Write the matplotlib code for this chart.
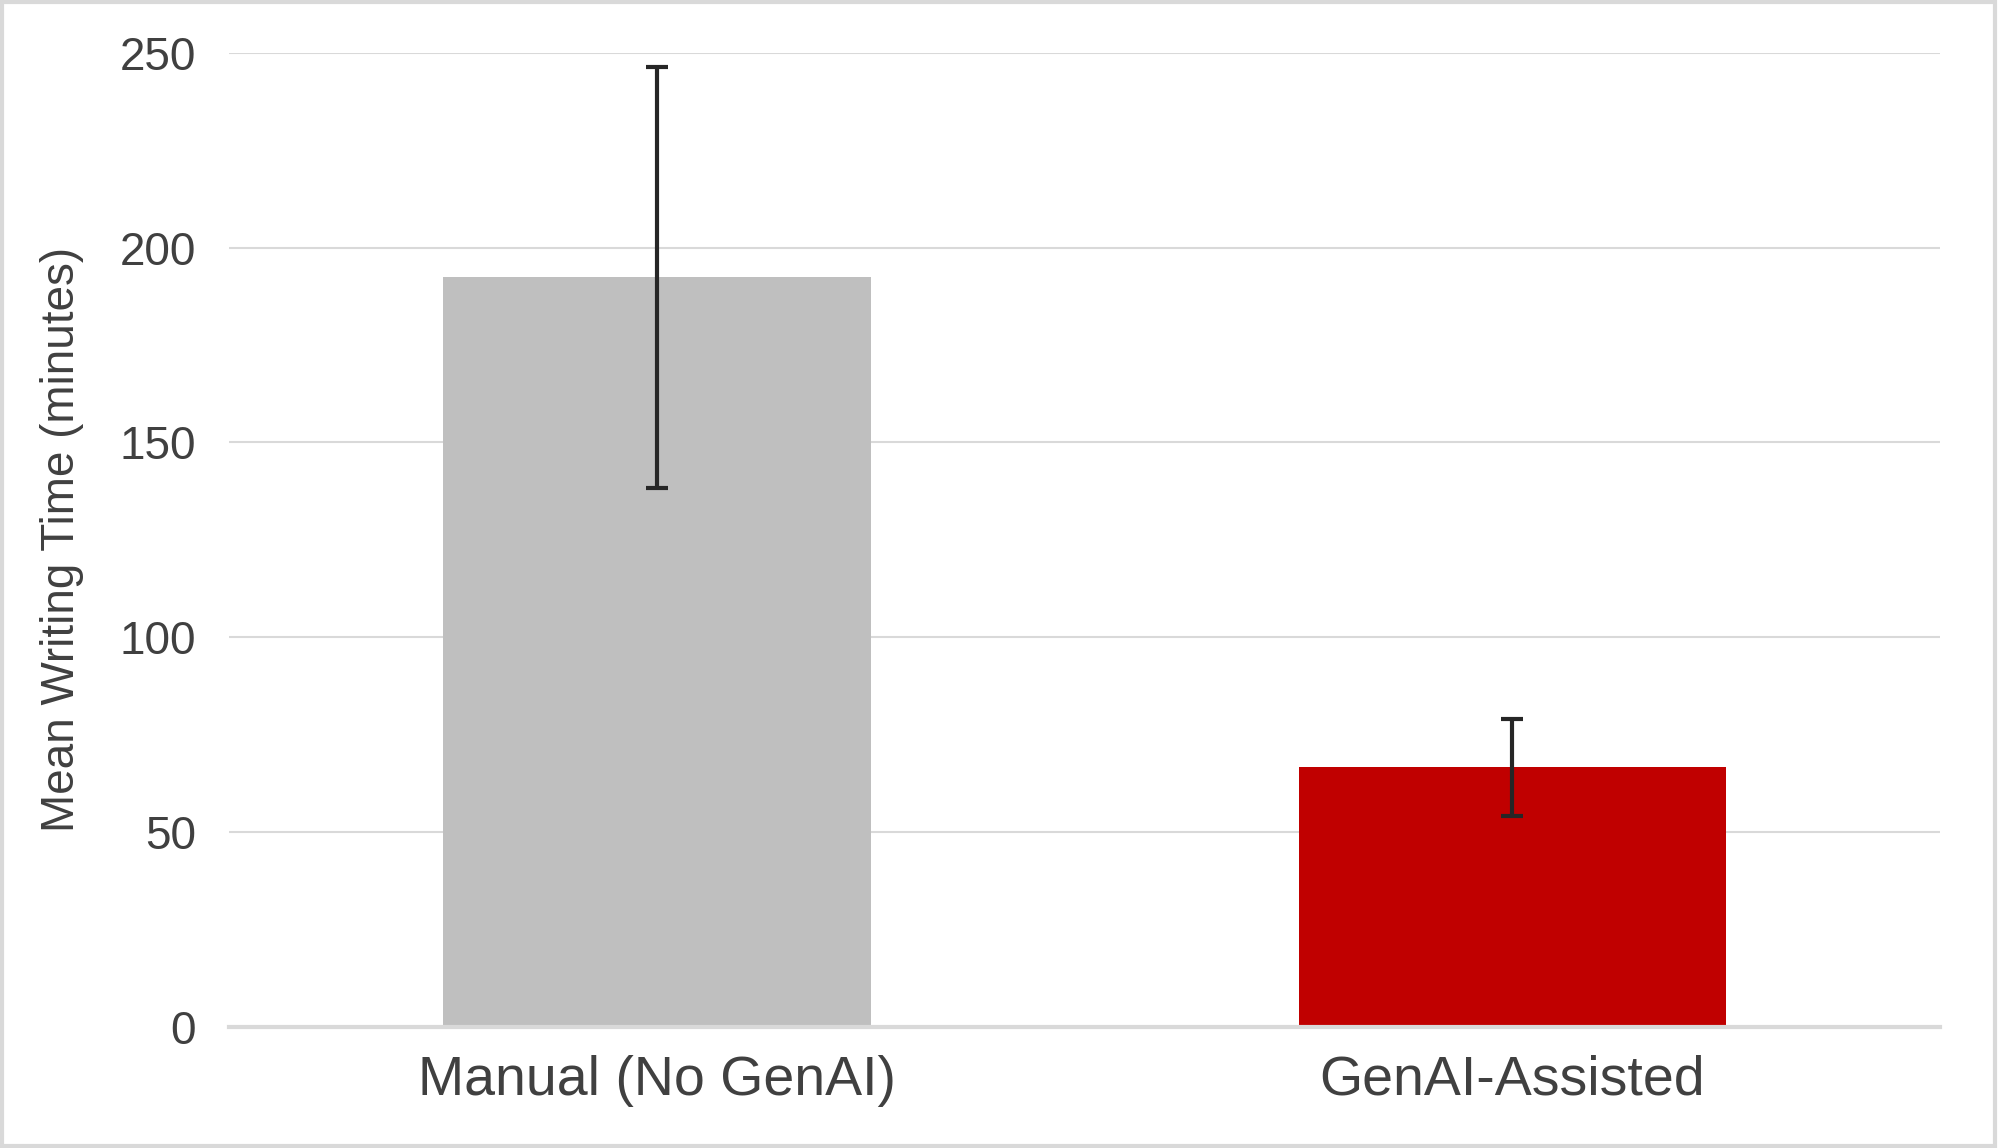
import matplotlib
matplotlib.use('Agg')
import matplotlib.pyplot as plt
from matplotlib.patches import Rectangle

categories = ['Manual (No GenAI)', 'GenAI-Assisted']
mean_time = [192.4, 66.6]
err = [54.0, 12.4]
bar_colors = ['#bfbfbf', '#c00000']
yticks = [0, 50, 100, 150, 200, 250]

plt.rcParams['font.family'] = ['Liberation Sans', 'DejaVu Sans']

fig = plt.figure(figsize=(19.99, 11.48), dpi=100)
ax = fig.add_axes([229.5 / 1999, 1 - 1027 / 1148, (1940 - 229.5) / 1999, (1027 - 52.7) / 1148])

x = range(len(categories))
ax.bar(x, mean_time, width=0.5, color=bar_colors, zorder=2)
ax.errorbar(x, mean_time, yerr=err, fmt='none', ecolor='#262626',
            elinewidth=3, capsize=8, capthick=3, zorder=3)

ax.set_xlim(-0.5, 1.5)
ax.set_ylim(0, 250)
ax.set_yticks(yticks)
ax.set_yticklabels([str(t) for t in yticks], fontsize=33, color='#404040')
ax.set_xticks(list(x))
ax.set_xticklabels(categories, fontsize=40, color='#404040')
ax.tick_params(axis='both', length=0)
ax.tick_params(axis='y', pad=24)
ax.tick_params(axis='x', pad=20)
ax.yaxis.grid(True, color='#d9d9d9', linewidth=1.5, zorder=0)
ax.set_axisbelow(True)
for s in ['top', 'right', 'left']:
    ax.spines[s].set_visible(False)
ax.spines['bottom'].set_color('#d9d9d9')
ax.spines['bottom'].set_linewidth(3)
ax.set_ylabel('Mean Writing Time (minutes)', fontsize=33, color='#404040', labelpad=26)

fig.patches.append(Rectangle((0.001, 0.002), 0.997, 0.996, transform=fig.transFigure,
                             fill=False, edgecolor='#d9d9d9', linewidth=3))

fig.savefig('out.png', dpi=100)
